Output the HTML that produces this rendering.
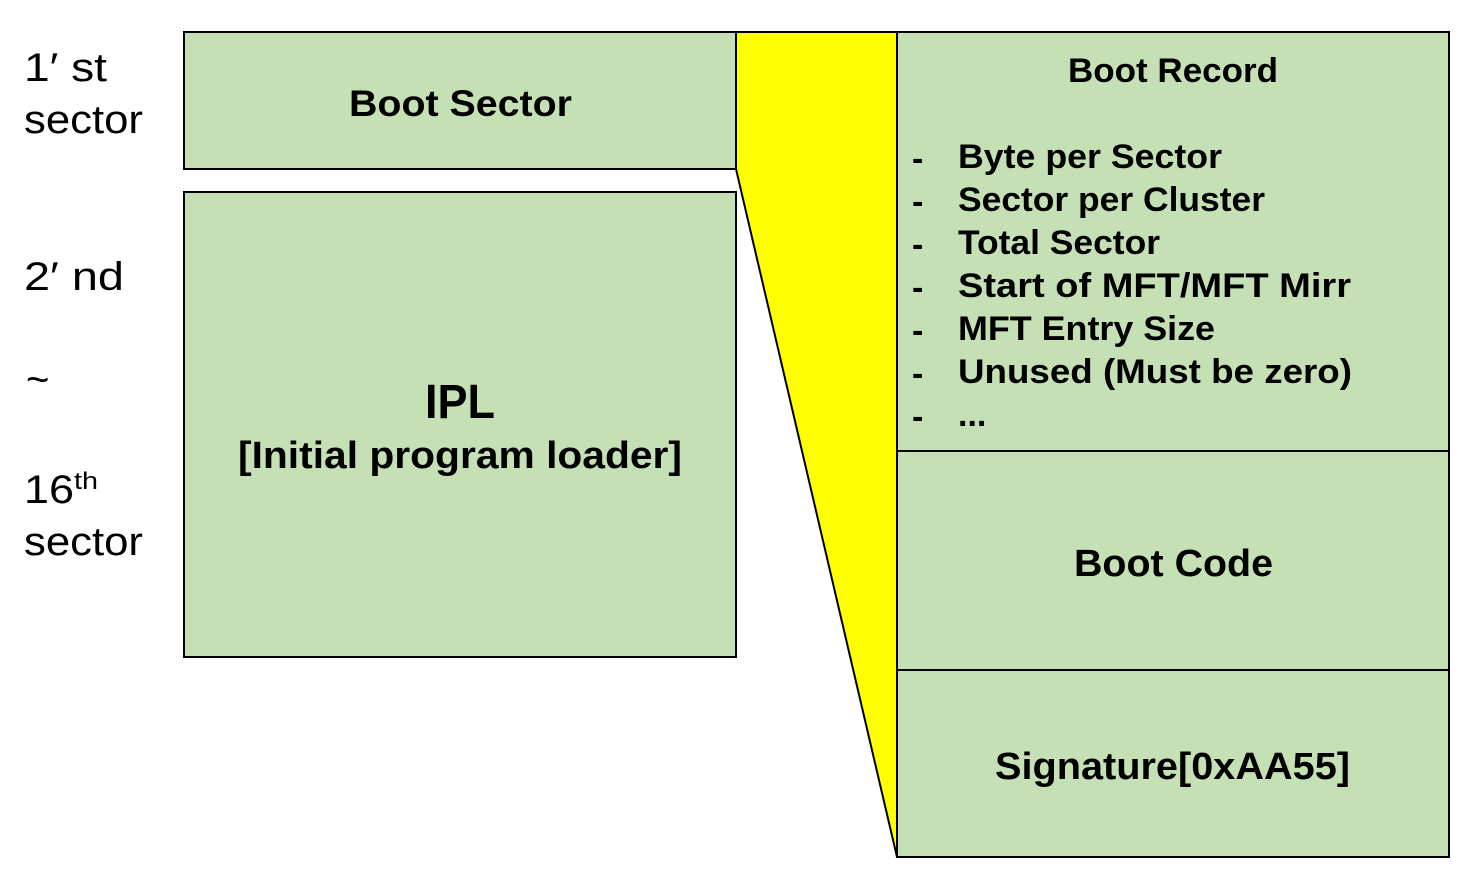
<!DOCTYPE html>
<html><head><meta charset="utf-8"><style>
html,body{margin:0;padding:0;background:#fff}
svg{display:block}
text{font-family:"Liberation Sans","Noto Sans CJK KR",sans-serif;fill:#000}
.b{font-weight:bold}
</style></head><body>
<svg width="1470" height="871" viewBox="0 0 1470 871" xmlns="http://www.w3.org/2000/svg">
<rect x="184" y="32" width="552" height="137" fill="#c5e0b4" stroke="#000" stroke-width="2"/>
<rect x="184" y="192" width="552" height="465" fill="#c5e0b4" stroke="#000" stroke-width="2"/>
<polygon points="736,32 897,32 897,857 736,169" fill="#ffff00" stroke="#000" stroke-width="2" stroke-linejoin="round"/>
<rect x="897" y="32" width="552" height="825" fill="#c5e0b4" stroke="#000" stroke-width="2"/>
<line x1="897" y1="451" x2="1449" y2="451" stroke="#000" stroke-width="2"/>
<line x1="897" y1="670" x2="1449" y2="670" stroke="#000" stroke-width="2"/>

<text x="24" y="81" font-size="40" textLength="83" lengthAdjust="spacingAndGlyphs">1′ st</text>
<text x="24" y="133" font-size="40" textLength="119" lengthAdjust="spacingAndGlyphs">sector</text>
<text x="24" y="290" font-size="40" textLength="100" lengthAdjust="spacingAndGlyphs">2′ nd</text>
<text x="26" y="393" font-size="40">~</text>
<text x="24" y="503" font-size="40" textLength="50" lengthAdjust="spacingAndGlyphs">16</text>
<text x="74" y="489" font-size="24" textLength="24" lengthAdjust="spacingAndGlyphs">th</text>
<text x="24" y="555" font-size="40" textLength="119" lengthAdjust="spacingAndGlyphs">sector</text>

<text class="b" x="349" y="116" font-size="37" textLength="223" lengthAdjust="spacingAndGlyphs">Boot Sector</text>
<text class="b" x="425" y="418" font-size="48" textLength="70" lengthAdjust="spacingAndGlyphs">IPL</text>
<text class="b" x="238" y="468" font-size="38" textLength="444" lengthAdjust="spacingAndGlyphs">[Initial program loader]</text>

<text class="b" x="1068" y="82" font-size="34" textLength="210" lengthAdjust="spacingAndGlyphs">Boot Record</text>
<g font-size="34" class="b">
<text x="912" y="170">-</text><text class="b" x="958" y="168" textLength="264" lengthAdjust="spacingAndGlyphs">Byte per Sector</text>
<text x="912" y="213">-</text><text class="b" x="958" y="211" textLength="307" lengthAdjust="spacingAndGlyphs">Sector per Cluster</text>
<text x="912" y="256">-</text><text class="b" x="958" y="254" textLength="202" lengthAdjust="spacingAndGlyphs">Total Sector</text>
<text x="912" y="299">-</text><text class="b" x="958" y="297" textLength="393" lengthAdjust="spacingAndGlyphs">Start of MFT/MFT Mirr</text>
<text x="912" y="342">-</text><text class="b" x="958" y="340" textLength="257" lengthAdjust="spacingAndGlyphs">MFT Entry Size</text>
<text x="912" y="385">-</text><text class="b" x="958" y="383" textLength="394" lengthAdjust="spacingAndGlyphs">Unused (Must be zero)</text>
<text x="912" y="428">-</text><text class="b" x="958" y="426">...</text>
</g>
<text class="b" x="1074" y="576" font-size="38" textLength="199" lengthAdjust="spacingAndGlyphs">Boot Code</text>
<text class="b" x="995" y="779" font-size="38" textLength="355" lengthAdjust="spacingAndGlyphs">Signature[0xAA55]</text>
</svg>
</body></html>
